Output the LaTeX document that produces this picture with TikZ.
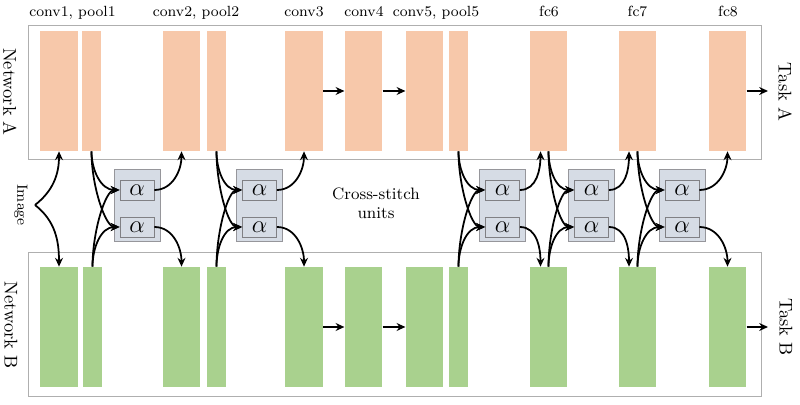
\RequirePackage{fix-cm}
\documentclass[tikz,border=0pt]{standalone}
\usetikzlibrary{arrows.meta,calc}
\definecolor{blkA}{RGB}{247,200,170}
\definecolor{blkB}{RGB}{169,209,142}
\definecolor{csfill}{RGB}{214,220,229}
\definecolor{csline}{RGB}{150,150,155}
\definecolor{frameline}{RGB}{175,175,175}
\begin{document}
\begin{tikzpicture}[x=0.02cm,y=0.02cm,
  frame/.style={draw=frameline,line width=0.5pt,inner sep=0pt},
  convA/.style={fill=blkA,inner sep=0pt,minimum width=0.75cm,minimum height=2.4cm},
  poolA/.style={fill=blkA,inner sep=0pt,minimum width=0.38cm,minimum height=2.4cm},
  convB/.style={fill=blkB,inner sep=0pt,minimum width=0.75cm,minimum height=2.4cm},
  poolB/.style={fill=blkB,inner sep=0pt,minimum width=0.38cm,minimum height=2.4cm},
  csunit/.style={fill=csfill,draw=csline,line width=0.5pt,inner sep=0pt,minimum width=0.92cm,minimum height=1.44cm},
  alphabox/.style={fill=csfill,draw=csline!85!black,line width=0.5pt,inner sep=0pt,minimum width=0.68cm,minimum height=0.4cm,font=\fontsize{14}{16}\selectfont},
  layerlbl/.style={anchor=base,font=\fontsize{8.4}{10}\selectfont},
  netlbl/.style={rotate=-90,font=\fontsize{10.5}{12}\selectfont},
  conn/.style={line width=1pt,-{Stealth[length=5pt,width=4.5pt]}},
  inc/.style={in looseness=0.45,out looseness=1.1}
]
\useasboundingbox (0,0) rectangle (800,405);

% frames
\node[frame,minimum width=14.66cm,minimum height=2.68cm] (FA) at (394.5,313) {};
\node[frame,minimum width=14.66cm,minimum height=2.88cm] (FB) at (394.5,81) {};

% network A blocks
\node[convA] (A1)  at (59,314) {};
\node[poolA] (A1p) at (91.5,314) {};
\node[convA] (A2)  at (181.5,314) {};
\node[poolA] (A2p) at (216.5,314) {};
\node[convA] (A3)  at (304,314) {};
\node[convA] (A4)  at (363.5,314) {};
\node[convA] (A5)  at (424.5,314) {};
\node[poolA] (A5p) at (458.5,314) {};
\node[convA] (A6)  at (548.5,314) {};
\node[convA] (A7)  at (637.5,314) {};
\node[convA] (A8)  at (727.5,314) {};

% network B blocks
\node[convB] (B1)  at (59,78) {};
\node[poolB] (B1p) at (92.5,78) {};
\node[convB] (B2)  at (181.5,78) {};
\node[poolB] (B2p) at (216.5,78) {};
\node[convB] (B3)  at (304,78) {};
\node[convB] (B4)  at (363.5,78) {};
\node[convB] (B5)  at (424.5,78) {};
\node[poolB] (B5p) at (458.5,78) {};
\node[convB] (B6)  at (548.5,78) {};
\node[convB] (B7)  at (637.5,78) {};
\node[convB] (B8)  at (727.5,78) {};

% layer labels
\node[layerlbl] (L1) at (72.5,388) {conv1, pool1};
\node[layerlbl] (L2) at (196,388) {conv2, pool2};
\node[layerlbl] (L3) at (304,388) {conv3};
\node[layerlbl] (L4) at (364,388) {conv4};
\node[layerlbl] (L5) at (436,388) {conv5, pool5};
\node[layerlbl] (L6) at (549,388) {fc6};
\node[layerlbl] (L7) at (637.5,388) {fc7};
\node[layerlbl] (L8) at (728,388) {fc8};

% side labels
\node[netlbl] (NA) at (10,313) {Network A};
\node[netlbl] (NB) at (11,80) {Network B};
\node[netlbl] (TA) at (785,313) {Task A};
\node[netlbl] (TB) at (786,78) {Task B};
\node[rotate=-90,font=\fontsize{8.4}{10}\selectfont] (img) at (21,200) {Image};
\coordinate (imgsrc) at (35,200);
\coordinate (outA) at (768,314);
\coordinate (outB) at (768,78);

\node[align=center,font=\fontsize{9.4}{11}\selectfont] (cslbl) at (376,202) {Cross-stitch\\units};

% cross-stitch units
\foreach \u/\x in {1/137,2/259.5,3/502.5,4/591.5,5/682}{
  \node[csunit] (U\u) at (\x,200) {};
  \node[alphabox] (U\u t) at (\x,215) {$\alpha$};
  \node[alphabox] (U\u b) at (\x,178) {$\alpha$};
}

% image input
\draw[conn] (imgsrc) to[out=38,in=-90] (A1.south);
\draw[conn] (imgsrc) to[out=-38,in=90] (B1.north);

% horizontal arrows
\draw[conn] (A3.east) -- (A4.west);
\draw[conn] (A4.east) -- (A5.west);
\draw[conn] (A8.east) -- (outA);
\draw[conn] (B3.east) -- (B4.west);
\draw[conn] (B4.east) -- (B5.west);
\draw[conn] (B8.east) -- (outB);

% cross-stitch connections
\foreach \u/\s/\t/\off in {1/1p/2/0,2/2p/3/0,3/5p/6/-8,4/6/7/-8.5,5/7/8/0}{
  \draw[conn] (A\s.south) to[out=-90,in=180] (U\u t.west);
  \draw[conn] (A\s.south) to[out=-90,in=180,inc] (U\u b.west);
  \draw[conn] (B\s.north) to[out=90,in=180,inc] (U\u t.west);
  \draw[conn] (B\s.north) to[out=90,in=180] (U\u b.west);
  \draw[conn] (U\u t.east) to[out=0,in=-90] ([xshift={\off*0.02cm}]A\t.south);
  \draw[conn] (U\u b.east) to[out=0,in=90] ([xshift={\off*0.02cm}]B\t.north);
}
\end{tikzpicture}
\end{document}
